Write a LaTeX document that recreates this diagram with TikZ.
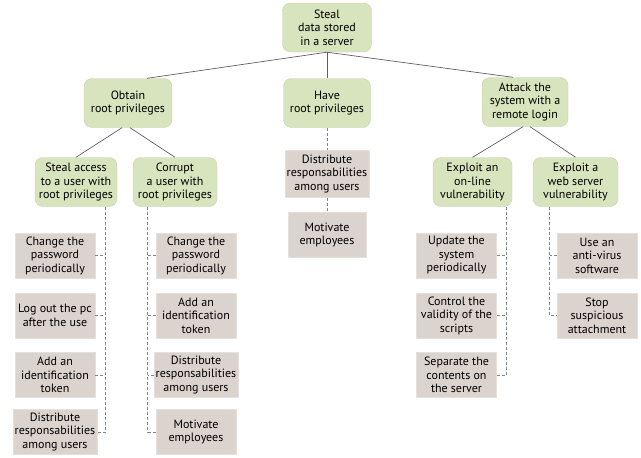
\documentclass[tikz,border=0pt]{standalone}
\usepackage{fontspec}
\setmainfont{PT Sans}
\usepackage{tikz}

\definecolor{goalgreen}{HTML}{D7E4BD}
\definecolor{goalline}{HTML}{C4D3AC}
\definecolor{leafgray}{HTML}{DBD3CE}
\definecolor{edgegray}{HTML}{5F5F5F}
\definecolor{dashgray}{HTML}{858585}

\begin{document}
\begin{tikzpicture}[x=1pt,y=-1pt,
        goal/.style={draw=goalline, fill=goalgreen, rounded corners=8pt, align=center,
            inner sep=2pt, minimum height=49pt, font=\fontsize{12}{13.5}\selectfont},
        leaf/.style={draw=leafgray!70!white, fill=leafgray, align=center, inner sep=2pt,
            minimum width=80pt, minimum height=45pt, font=\fontsize{12}{13.5}\selectfont},
        edge/.style={draw=edgegray, line width=0.7pt},
        dline/.style={draw=dashgray, line width=0.7pt, dash pattern=on 3pt off 2pt}]
            \useasboundingbox (0,0) rectangle (641,458);
            % goals
            \node[goal, minimum width=89pt] (root) at (327,27.5) {Steal\\data stored\\in a server};
            \node[goal, minimum width=88pt] (obt) at (128,103) {Obtain\\root privileges};
            \node[goal, minimum width=87pt] (hav) at (327,103) {Have\\root privileges};
            \node[goal, minimum width=86pt] (att) at (525,102) {Attack the\\system with a\\remote login};
            \node[goal, minimum width=82pt] (sac) at (76,182) {Steal access\\to a user with\\root privileges};
            \node[goal, minimum width=84pt] (cor) at (175,182) {Corrupt\\a user with\\root privileges};
            \node[goal, minimum width=79pt] (onl) at (472.5,182) {Exploit an\\on-line\\vulnerability};
            \node[goal, minimum width=85pt] (web) at (575.5,182) {Exploit a\\web server\\vulnerability};
            % countermeasures
            \node[leaf] (sac1) at (55,255.5) {Change the\\password\\periodically};
            \node[leaf] (sac2) at (55,315.5) {Log out the pc\\after the use};
            \node[leaf] (sac3) at (55,375) {Add an\\identification\\token};
            \node[leaf] (sac4) at (55,432) {Distribute\\responsabilities\\among users};
            \node[leaf] (cor1) at (196,255.5) {Change the\\password\\periodically};
            \node[leaf] (cor2) at (196,315.5) {Add an\\identification\\token};
            \node[leaf] (cor3) at (196,375) {Distribute\\responsabilities\\among users};
            \node[leaf] (cor4) at (196,432) {Motivate\\employees};
            \node[leaf, minimum width=78pt, minimum height=47pt] (hav1) at (327,174) {Distribute\\responsabilities\\among users};
            \node[leaf, minimum width=78pt] (hav2) at (327,235) {Motivate\\employees};
            \node[leaf] (onl1) at (456.5,255.5) {Update the\\system\\periodically};
            \node[leaf] (onl2) at (456.5,315.5) {Control the\\validity of the\\scripts};
            \node[leaf] (onl3) at (456.5,375) {Separate the\\contents on\\the server};
            \node[leaf] (web1) at (597,255.5) {Use an\\anti-virus\\software};
            \node[leaf] (web2) at (597,315.5) {Stop\\suspicious\\attachment};
            % tree edges
            \draw[edge] (root.south) -- ([xshift=19pt]obt.north);
            \draw[edge] (root.south) -- (hav.north);
            \draw[edge] (root.south) -- ([xshift=-12pt]att.north);
            \draw[edge] ([xshift=-6pt]obt.south) -- (sac.north);
            \draw[edge] ([xshift=2pt]obt.south) -- (cor.north);
            \draw[edge] ([xshift=-2pt]att.south) -- (onl.north);
            \draw[edge] ([xshift=5pt]att.south) -- (web.north);
            % dashed links
            \coordinate (sac-d) at ([xshift=10pt]sac1.east |- sac.south);
            \coordinate (cor-d) at ([xshift=-8pt]cor1.west |- cor.south);
            \coordinate (onl-d) at ([xshift=10pt]onl1.east |- onl.south);
            \coordinate (web-d) at ([xshift=-7pt]web1.west |- web.south);
            \draw[dline] (sac-d) |- (sac4.east);
            \draw[dline] (cor-d) |- (cor4.west);
            \draw[dline] (onl-d) |- (onl3.east);
            \draw[dline] (web-d) |- (web2.west);
            \foreach \i in {1,2,3} {
                \draw[dline] (sac\i.east) -- (sac\i.east -| sac-d);
                \draw[dline] (cor\i.west) -- (cor\i.west -| cor-d);
            }
            \foreach \i in {1,2} \draw[dline] (onl\i.east) -- (onl\i.east -| onl-d);
            \draw[dline] (web1.west) -- (web1.west -| web-d);
            \draw[dline] (hav.south) -- (hav1.north);
            \draw[dline] (hav1.south) -- (hav2.north);
        \end{tikzpicture}
\end{document}
